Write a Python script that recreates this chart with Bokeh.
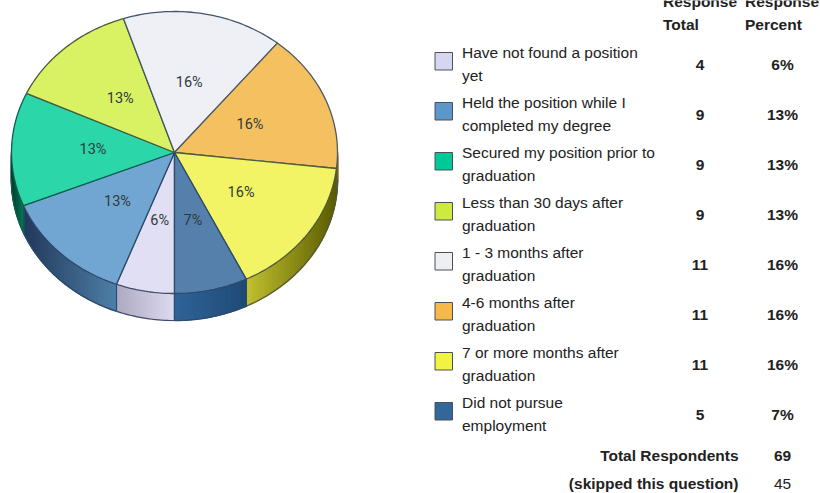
import math
from bokeh.plotting import figure
from bokeh.models import Range1d, ColumnDataSource
from bokeh.core.properties import value
from bokeh.embed import file_html
from bokeh.resources import INLINE

categories = ["Have not found a position yet", "Held the position while I completed my degree",
              "Secured my position prior to graduation", "Less than 30 days after graduation",
              "1 - 3 months after graduation", "4-6 months after graduation",
              "7 or more months after graduation", "Did not pursue employment"]
label_lines = [["Have not found a position", "yet"], ["Held the position while I", "completed my degree"],
               ["Secured my position prior to", "graduation"], ["Less than 30 days after", "graduation"],
               ["1 - 3 months after", "graduation"], ["4-6 months after", "graduation"],
               ["7 or more months after", "graduation"], ["Did not pursue", "employment"]]
totals = [4, 9, 9, 9, 11, 11, 11, 5]
percents = ["6%", "13%", "13%", "13%", "16%", "16%", "16%", "7%"]
top_colors = ["#e0dff3", "#72a6d2", "#2bd6a9", "#d9f263", "#eef0f5", "#f5c160", "#f2f465", "#5580ab"]
swatch_colors = ["#d6d6f2", "#5b97c9", "#00c896", "#cdea3e", "#eeeff3", "#f5b94a", "#f0f244", "#336699"]
edge_colors = ["#3f4a6a", "#2c4a6c", "#0b5f4c", "#4a5a3a", "#44546a", "#4f5a60", "#4f5a40", "#2c4a6c"]
side_left = ["#aeaac2", "#22395a", "#00402e", "#555", "#555", "#8a6a20", "#c0c030", "#2f6499"]
side_right = ["#dedcf0", "#4f80a8", "#0a7a5c", "#555", "#555", "#6a5010", "#5a5a00", "#1f4a75"]
footer_total = "69"
footer_skipped = "45"

W, H = 820, 493
CX, CY, RX, RY, DEPTH = 174, 152, 163, 141, 27

p = figure(width=W, height=H, output_backend="svg", toolbar_location=None,
           x_range=Range1d(0, W), y_range=Range1d(H, 0), min_border=0,
           margin=(0, 0, 0, 0))
p.axis.visible = False
p.grid.visible = False
p.outline_line_color = None
p.background_fill_color = "white"

def hexrgb(c):
    c = c.lstrip("#")
    if len(c) == 3:
        c = "".join(ch * 2 for ch in c)
    return [int(c[i:i + 2], 16) for i in (0, 2, 4)]

def mix(a, b, t):
    A, B = hexrgb(a), hexrgb(b)
    return "#%02x%02x%02x" % tuple(round(A[i] + (B[i] - A[i]) * t) for i in range(3))

def pt(theta, r=1.0):
    # theta: degrees clockwise from straight down
    return CX - RX * r * math.sin(math.radians(theta)), CY + RY * r * math.cos(math.radians(theta))

# slice angle ranges from the values
grand = sum(totals)
angles = [0.0]
for v in totals:
    angles.append(angles[-1] + v / grand * 360)

# side wall
for i in range(len(totals)):
    a0, a1 = angles[i], angles[i + 1]
    segs = []
    for off in (0, -360):
        l, h = max(a0 + off, -90), min(a1 + off, 90)
        if l < h:
            segs.append((l, h))
    for l, h in segs:
        n = max(2, int((h - l) / 1.0))
        ths = [l + (h - l) * k / n for k in range(n + 1)]
        xa, xb = pt(l)[0], pt(h)[0]
        left_x, right_x = min(xa, xb), max(xa, xb)
        xs, ys, cols = [], [], []
        for k in range(n):
            (x0, y0), (x1, y1) = pt(ths[k]), pt(ths[k + 1])
            xs.append([x0, x1, x1, x0])
            ys.append([y0, y1, y1 + DEPTH, y0 + DEPTH])
            t = ((x0 + x1) / 2 - left_x) / max(right_x - left_x, 1)
            cols.append(mix(side_left[i], side_right[i], t))
        p.patches(xs, ys, fill_color=cols, line_color=cols, line_width=1.6)
        p.line([pt(t)[0] for t in ths], [pt(t)[1] + DEPTH for t in ths], line_color=edge_colors[i], line_width=1.2)
        for th in (l, h):
            if abs(th) < 89.9:
                x, y = pt(th)
                p.line([x, x], [y, y + DEPTH], line_color=edge_colors[i], line_width=1)

# top face
for i in range(len(totals)):
    n = max(2, int(angles[i + 1] - angles[i]))
    ths = [angles[i] + (angles[i + 1] - angles[i]) * k / n for k in range(n + 1)]
    xs = [CX] + [pt(t)[0] for t in ths]
    ys = [CY] + [pt(t)[1] for t in ths]
    p.patch(xs, ys, fill_color=top_colors[i], line_color=edge_colors[i], line_width=1.3)

# percentage labels on the pie
lab = ColumnDataSource(dict(
    x=[pt((angles[i] + angles[i + 1]) / 2, 0.5)[0] for i in range(len(totals))],
    y=[pt((angles[i] + angles[i + 1]) / 2, 0.5)[1] - 1 for i in range(len(totals))],
    t=percents))
p.text("x", "y", text="t", source=lab, text_font=value("Roboto"), text_font_size="14.5px",
       text_align="center", text_baseline="middle", text_color="#2f3a3a")

FONT = value("Liberation Sans")
def txt(x, y, s, bold=False, align="left"):
    p.text([x], [y], text=[s], text_font=FONT, text_font_size="15.5px",
           text_font_style="bold" if bold else "normal", text_align=align,
           text_baseline="middle", text_color="#222222")

# table header
txt(662.5, 1, "Response", True)
txt(744.5, 1, "Response", True)
txt(662.5, 24, "Total", True)
txt(744.5, 24, "Percent", True)

# table rows
for i, lines in enumerate(label_lines):
    y0 = 52 + 50 * i
    p.quad(left=[434.5], right=[452], top=[y0], bottom=[y0 + 17.5], fill_color=swatch_colors[i],
           line_color="#4a5058", line_width=1)
    txt(461.5, y0, lines[0])
    txt(461.5, y0 + 23, lines[1])
    txt(699.5, y0 + 12, str(totals[i]), True, "center")
    txt(782, y0 + 12, percents[i], True, "center")

# footer
txt(738, 455, "Total Respondents", True, "right")
txt(782, 455, footer_total, True, "center")
txt(738, 483, "(skipped this question)", True, "right")
txt(782, 483, footer_skipped, False, "center")

open("out.html", "w").write(file_html(p, INLINE))
